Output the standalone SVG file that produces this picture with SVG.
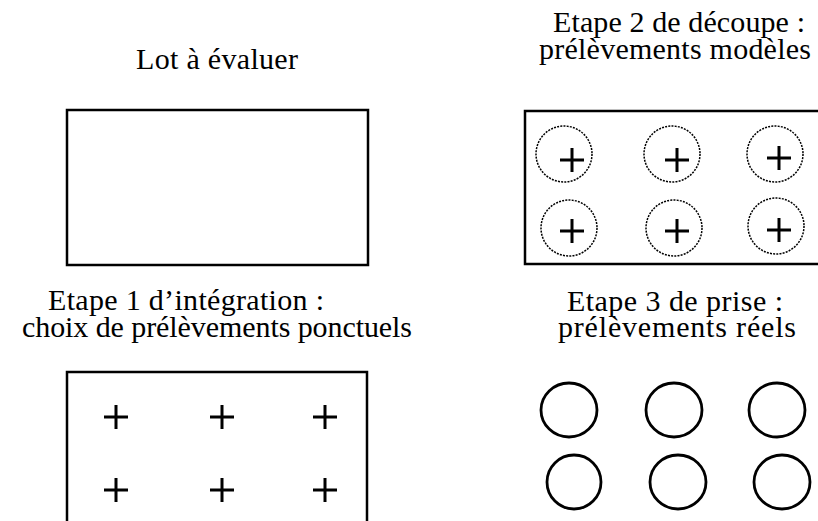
<svg xmlns="http://www.w3.org/2000/svg" width="818" height="521" viewBox="0 0 818 521">
<style>
text{font-family:"Liberation Serif","DejaVu Serif",serif;font-size:30px;fill:#000}
.box{fill:none;stroke:#000;stroke-width:2.5}
.plus{stroke:#000;stroke-width:3;fill:none}
.dc{fill:none;stroke:#000;stroke-width:1.5;stroke-dasharray:2 1.2}
.sc{fill:none;stroke:#000;stroke-width:2.8}
</style>
<defs>
<path id="p" d="M-12 0H12M0 -12V12"/>
</defs>
<rect width="818" height="521" fill="#fff"/>
<g id="lot" font-family="Liberation Serif, serif">
<text x="217" y="69" text-anchor="middle" textLength="162">Lot à évaluer</text>
<rect class="box" x="67" y="110" width="301" height="155"/>
</g>
<g id="etape2" font-family="Liberation Serif, serif">
<text x="679" y="32" text-anchor="middle" textLength="252">Etape 2 de découpe :</text>
<text x="675" y="59" text-anchor="middle" textLength="272">prélèvements modèles</text>
<rect class="box" x="525" y="111" width="310" height="153"/>
<circle class="dc" cx="564" cy="154" r="28"/>
<circle class="dc" cx="672" cy="154" r="28"/>
<circle class="dc" cx="775" cy="154" r="28"/>
<circle class="dc" cx="569" cy="228" r="28"/>
<circle class="dc" cx="674" cy="228" r="28"/>
<circle class="dc" cx="776" cy="226" r="28"/>
<use href="#p" class="plus" x="572" y="160"/>
<use href="#p" class="plus" x="677" y="160"/>
<use href="#p" class="plus" x="779" y="158"/>
<use href="#p" class="plus" x="572" y="231"/>
<use href="#p" class="plus" x="677" y="231"/>
<use href="#p" class="plus" x="779" y="230"/>
</g>
<g id="etape1" font-family="Liberation Serif, serif">
<text x="48" y="310" textLength="276">Etape 1 d’intégration :</text>
<text x="217" y="337" text-anchor="middle" textLength="390">choix de prélèvements ponctuels</text>
<path class="box" d="M67 530V372H367V530"/>
<use href="#p" class="plus" x="116" y="417"/>
<use href="#p" class="plus" x="222" y="417"/>
<use href="#p" class="plus" x="325" y="417"/>
<use href="#p" class="plus" x="116" y="490"/>
<use href="#p" class="plus" x="222" y="490"/>
<use href="#p" class="plus" x="325" y="490"/>
</g>
<g id="etape3" font-family="Liberation Serif, serif">
<text x="675" y="311" text-anchor="middle" textLength="216">Etape 3 de prise :</text>
<text x="677" y="337" text-anchor="middle" textLength="238">prélèvements réels</text>
<ellipse class="sc" cx="569" cy="410" rx="28" ry="27"/>
<ellipse class="sc" cx="674" cy="410" rx="28" ry="27"/>
<ellipse class="sc" cx="777" cy="410" rx="28" ry="27"/>
<ellipse class="sc" cx="574" cy="482" rx="27" ry="27"/>
<ellipse class="sc" cx="678" cy="482" rx="28" ry="27"/>
<ellipse class="sc" cx="782" cy="482" rx="28" ry="27"/>
</g>
<g id="connectors"/>
</svg>
